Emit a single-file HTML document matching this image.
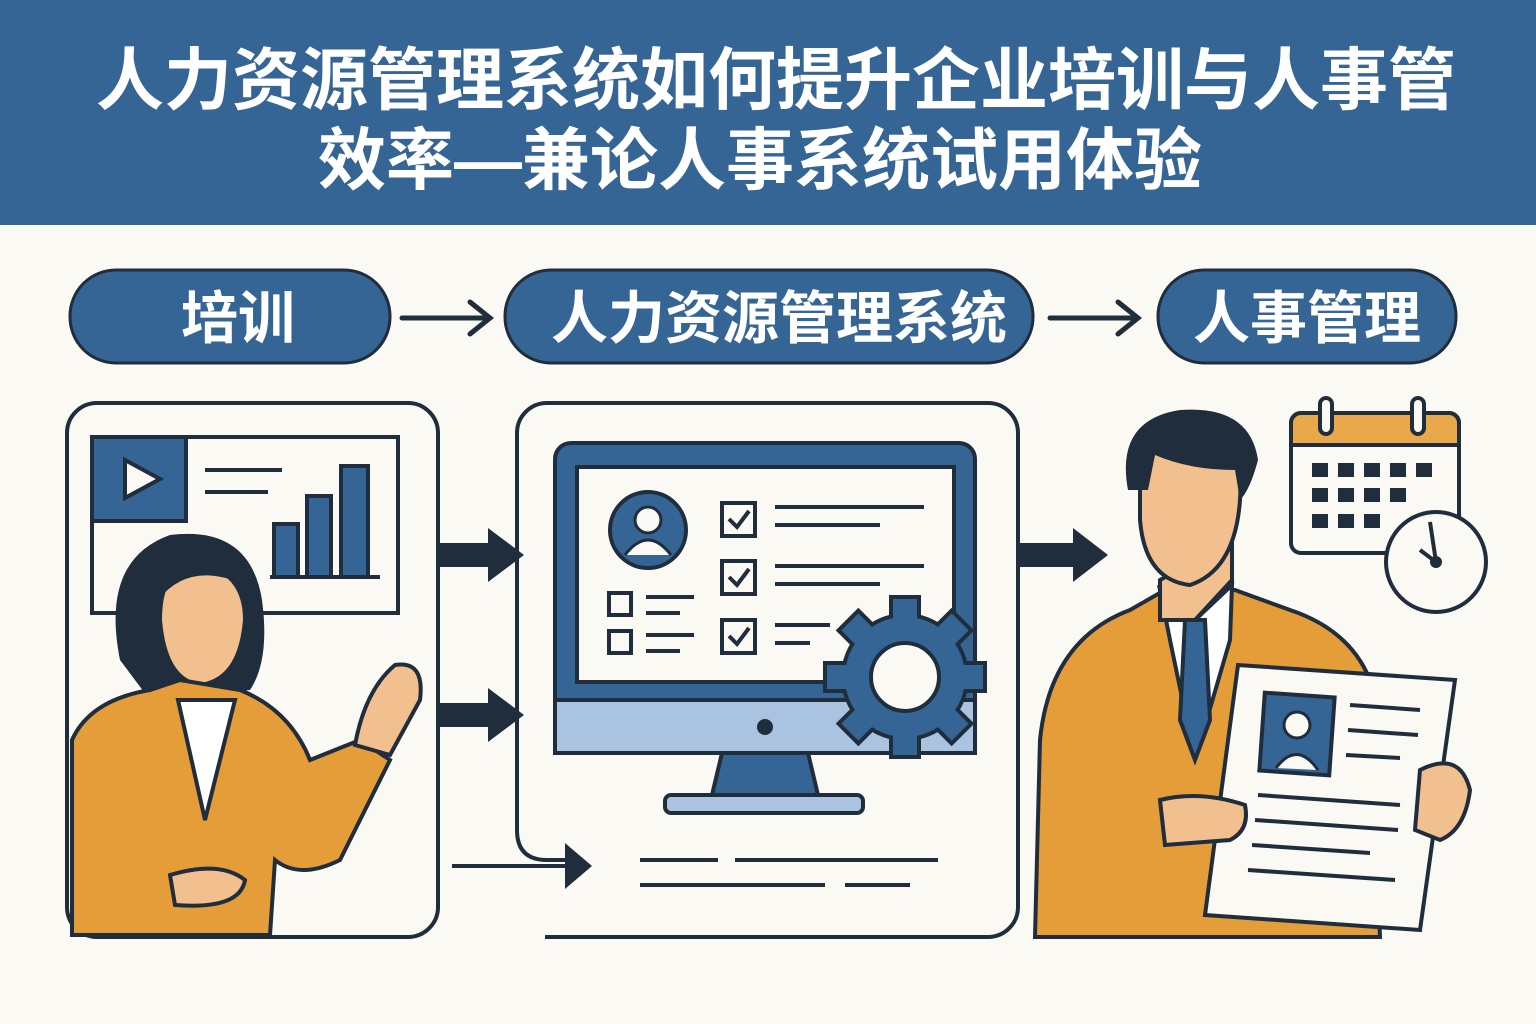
<!DOCTYPE html>
<html><head><meta charset="utf-8"><style>
html,body{margin:0;padding:0;background:#fbf9f3;}
svg{display:block}
text{font-family:"Liberation Sans","Noto Sans CJK SC",sans-serif;font-weight:bold}
</style></head><body>
<svg width="1536" height="1024" viewBox="0 0 1536 1024" xmlns="http://www.w3.org/2000/svg">
<rect width="1536" height="1024" fill="#fbf9f3"/>
<rect width="1536" height="225" fill="#356594"/>
<text x="776" y="104" font-size="68" fill="#fff" text-anchor="middle">人力资源管理系统如何提升企业培训与人事管</text>
<text x="760" y="184" font-size="68" fill="#fff" text-anchor="middle">效率—兼论人事系统试用体验</text>

<g fill="#356594" stroke="#1f2d3d" stroke-width="3">
<rect x="70" y="270" width="320" height="93" rx="46"/>
<rect x="505" y="270" width="528" height="93" rx="46"/>
<rect x="1158" y="270" width="298" height="93" rx="46"/>
</g>
<g font-size="57" fill="#fff" text-anchor="middle">
<text x="238" y="338">培训</text>
<text x="779" y="338">人力资源管理系统</text>
<text x="1307" y="338">人事管理</text>
</g>
<g stroke="#1f2d3d" stroke-width="5" fill="none" stroke-linecap="round">
<line x1="402" y1="318" x2="488" y2="318"/><polyline points="470,302 490,318 470,334"/>
<line x1="1050" y1="318" x2="1136" y2="318"/><polyline points="1118,302 1138,318 1118,334"/>
</g>

<!-- panels -->
<g fill="none" stroke="#1f2d3d" stroke-width="4">
<rect x="67" y="403" width="371" height="534" rx="30"/>
<path d="M545 937 H988 a30 30 0 0 0 30 -30 V433 a30 30 0 0 0 -30 -30 H547 a30 30 0 0 0 -30 30 V830 q0 30 30 30 H570"/>
</g>

<!-- left board -->
<rect x="92" y="437" width="306" height="176" fill="#fbf9f3" stroke="#1f2d3d" stroke-width="4"/>
<rect x="92" y="437" width="94" height="84" fill="#356594" stroke="#1f2d3d" stroke-width="4"/>
<polygon points="125,460 125,498 160,479" fill="#fbf9f3" stroke="#1f2d3d" stroke-width="4"/>
<g stroke="#1f2d3d" stroke-width="4"><line x1="205" y1="470" x2="282" y2="470"/><line x1="205" y1="492" x2="268" y2="492"/><line x1="270" y1="577" x2="380" y2="577"/></g>
<g fill="#356594" stroke="#1f2d3d" stroke-width="4">
<rect x="274" y="524" width="24" height="53"/><rect x="307" y="496" width="24" height="81"/><rect x="341" y="466" width="27" height="111"/>
</g>
<!-- woman -->
<path d="M120 660 Q100 560 170 535 Q250 525 262 600 Q270 660 250 690 L150 700 Z" fill="#1f2d3d"/>
<path d="M160 620 Q160 560 205 565 Q245 575 245 620 Q240 680 200 685 Q165 680 160 620Z" fill="#f2c08f" stroke="#1f2d3d" stroke-width="4"/>
<path d="M158 600 Q190 560 245 585 L245 560 Q200 540 160 575Z" fill="#1f2d3d"/>
<path d="M72 935 V740 Q90 700 150 690 L180 680 L240 690 Q290 710 310 760 L360 740 L390 760 L340 860 Q300 880 275 860 L270 935 Z" fill="#e59d3a" stroke="#1f2d3d" stroke-width="4"/>
<path d="M178 700 L205 820 L235 700 Z" fill="#fff" stroke="#1f2d3d" stroke-width="4"/>
<path d="M355 745 Q365 690 395 665 Q425 660 420 700 L390 755Z" fill="#f2c08f" stroke="#1f2d3d" stroke-width="4"/>
<path d="M170 875 Q220 860 245 880 Q240 910 175 905Z" fill="#f2c08f" stroke="#1f2d3d" stroke-width="4"/>

<!-- arrows between panels -->
<g fill="#1f2d3d">
<rect x="440" y="543" width="50" height="24"/><polygon points="488,528 524,555 488,582"/>
<rect x="440" y="703" width="50" height="24"/><polygon points="488,688 524,715 488,742"/>
<rect x="1020" y="543" width="55" height="24"/><polygon points="1073,528 1108,555 1073,582"/>
</g>
<g stroke="#1f2d3d" stroke-width="4" fill="none"><line x1="452" y1="866" x2="575" y2="866"/></g>
<polygon points="565,843 592,866 565,889" fill="#1f2d3d"/>
<g stroke="#1f2d3d" stroke-width="4"><line x1="640" y1="860" x2="718" y2="860"/><line x1="735" y1="860" x2="938" y2="860"/><line x1="640" y1="885" x2="825" y2="885"/><line x1="845" y1="885" x2="910" y2="885"/></g>

<!-- monitor -->
<rect x="555" y="443" width="420" height="310" rx="16" fill="#356594" stroke="#1f2d3d" stroke-width="4"/>
<rect x="555" y="700" width="420" height="53" fill="#a9c3e0" stroke="#1f2d3d" stroke-width="4"/>
<rect x="577" y="467" width="377" height="215" fill="#fbf9f3" stroke="#1f2d3d" stroke-width="4"/>
<circle cx="765" cy="727" r="8" fill="#1f2d3d"/>
<polygon points="722,753 808,753 818,795 712,795" fill="#356594" stroke="#1f2d3d" stroke-width="4"/>
<rect x="665" y="795" width="198" height="18" rx="6" fill="#a9c3e0" stroke="#1f2d3d" stroke-width="4"/>
<circle cx="648" cy="530" r="38" fill="#356594" stroke="#1f2d3d" stroke-width="4"/>
<circle cx="648" cy="520" r="13" fill="#fbf9f3" stroke="#1f2d3d" stroke-width="3"/>
<path d="M625 555 Q648 525 671 555" fill="#fbf9f3" stroke="#1f2d3d" stroke-width="3"/>
<g fill="#fbf9f3" stroke="#1f2d3d" stroke-width="4">
<rect x="722" y="503" width="33" height="33"/><rect x="722" y="561" width="33" height="33"/><rect x="722" y="620" width="33" height="33"/>
<rect x="609" y="593" width="22" height="22"/><rect x="609" y="631" width="22" height="22"/>
</g>
<g stroke="#1f2d3d" stroke-width="4" fill="none">
<polyline points="729,519 737,527 749,511"/><polyline points="729,577 737,585 749,569"/><polyline points="729,636 737,644 749,628"/>
<line x1="775" y1="507" x2="924" y2="507"/><line x1="775" y1="525" x2="880" y2="525"/>
<line x1="775" y1="566" x2="924" y2="566"/><line x1="775" y1="584" x2="880" y2="584"/>
<line x1="775" y1="625" x2="830" y2="625"/><line x1="775" y1="643" x2="810" y2="643"/>
<line x1="646" y1="597" x2="694" y2="597"/><line x1="646" y1="613" x2="680" y2="613"/>
<line x1="646" y1="635" x2="694" y2="635"/><line x1="646" y1="651" x2="680" y2="651"/>
</g>
<!-- gear -->
<g transform="translate(905,677)">
<g fill="#356594" stroke="#1f2d3d" stroke-width="4">
<circle r="62"/>
<rect x="-14" y="-80" width="28" height="24"/><rect x="-14" y="56" width="28" height="24"/>
<rect x="-80" y="-14" width="24" height="28"/><rect x="56" y="-14" width="24" height="28"/>
<rect x="-14" y="-80" width="28" height="24" transform="rotate(45)"/><rect x="-14" y="-80" width="28" height="24" transform="rotate(135)"/>
<rect x="-14" y="-80" width="28" height="24" transform="rotate(225)"/><rect x="-14" y="-80" width="28" height="24" transform="rotate(315)"/>
<circle r="60" stroke="none"/>
</g>
<circle r="34" fill="#fbf9f3" stroke="#1f2d3d" stroke-width="4"/>
</g>

<!-- calendar -->
<rect x="1291" y="413" width="168" height="140" rx="10" fill="#fbf9f3" stroke="#1f2d3d" stroke-width="4"/>
<path d="M1291 445 V423 a10 10 0 0 1 10 -10 H1449 a10 10 0 0 1 10 10 V445Z" fill="#e9a94a" stroke="#1f2d3d" stroke-width="4"/>
<rect x="1320" y="398" width="12" height="36" rx="6" fill="#fbf9f3" stroke="#1f2d3d" stroke-width="4"/>
<rect x="1412" y="398" width="12" height="36" rx="6" fill="#fbf9f3" stroke="#1f2d3d" stroke-width="4"/>
<g fill="#1f2d3d">
<rect x="1312" y="463" width="16" height="14"/><rect x="1338" y="463" width="16" height="14"/><rect x="1364" y="463" width="16" height="14"/><rect x="1390" y="463" width="16" height="14"/><rect x="1416" y="463" width="16" height="14"/>
<rect x="1312" y="488" width="16" height="14"/><rect x="1338" y="488" width="16" height="14"/><rect x="1364" y="488" width="16" height="14"/><rect x="1390" y="488" width="16" height="14"/>
<rect x="1312" y="514" width="16" height="14"/><rect x="1338" y="514" width="16" height="14"/><rect x="1364" y="514" width="16" height="14"/>
</g>
<circle cx="1436" cy="562" r="50" fill="#fbf9f3" stroke="#1f2d3d" stroke-width="4"/>
<polyline points="1430,522 1436,562 1420,550" fill="none" stroke="#1f2d3d" stroke-width="4"/>
<circle cx="1436" cy="562" r="6" fill="#1f2d3d"/>

<!-- man -->
<path d="M1035 937 L1040 740 Q1050 640 1130 610 L1165 590 L1235 590 L1290 610 Q1350 630 1370 680 L1380 937Z" fill="#e59d3a" stroke="#1f2d3d" stroke-width="4"/>
<path d="M1160 590 L1195 620 L1232 585 L1230 640 L1195 760 L1170 640Z" fill="#fff" stroke="#1f2d3d" stroke-width="4"/>
<path d="M1185 620 L1205 620 L1210 720 L1195 760 L1180 720Z" fill="#356594" stroke="#1f2d3d" stroke-width="4"/>
<path d="M1160 580 L1160 620 L1195 620 L1232 580 L1232 540 Z" fill="#f2c08f" stroke="#1f2d3d" stroke-width="4"/>
<path d="M1140 480 Q1140 420 1190 425 Q1245 430 1240 500 Q1235 570 1190 585 Q1145 580 1140 520Z" fill="#f2c08f" stroke="#1f2d3d" stroke-width="4"/>
<path d="M1128 490 Q1115 420 1180 410 Q1250 405 1258 460 Q1250 490 1240 500 L1235 470 Q1190 470 1155 455 L1148 490Z" fill="#1f2d3d"/>
<path d="M1238 665 L1455 680 L1420 930 L1205 915 Z" fill="#fbf9f3" stroke="#1f2d3d" stroke-width="4"/>
<rect x="1262" y="695" width="70" height="78" fill="#356594" stroke="#1f2d3d" stroke-width="4" transform="rotate(4 1297 734)"/>
<circle cx="1297" cy="725" r="13" fill="#fbf9f3" stroke="#1f2d3d" stroke-width="3"/>
<path d="M1276 768 Q1297 740 1318 770" fill="#fbf9f3" stroke="#1f2d3d" stroke-width="3"/>
<g stroke="#1f2d3d" stroke-width="4">
<line x1="1350" y1="705" x2="1420" y2="710"/><line x1="1348" y1="730" x2="1418" y2="735"/><line x1="1346" y1="755" x2="1400" y2="758"/>
<line x1="1258" y1="795" x2="1400" y2="805"/><line x1="1255" y1="820" x2="1398" y2="830"/><line x1="1252" y1="845" x2="1370" y2="853"/><line x1="1248" y1="870" x2="1395" y2="880"/>
</g>
<path d="M1160 800 Q1200 790 1245 805 Q1250 830 1230 840 L1165 845Z" fill="#f2c08f" stroke="#1f2d3d" stroke-width="4"/>
<path d="M1420 770 Q1460 750 1470 790 Q1465 830 1440 840 L1415 830Z" fill="#f2c08f" stroke="#1f2d3d" stroke-width="4"/>
</svg>
</body></html>
